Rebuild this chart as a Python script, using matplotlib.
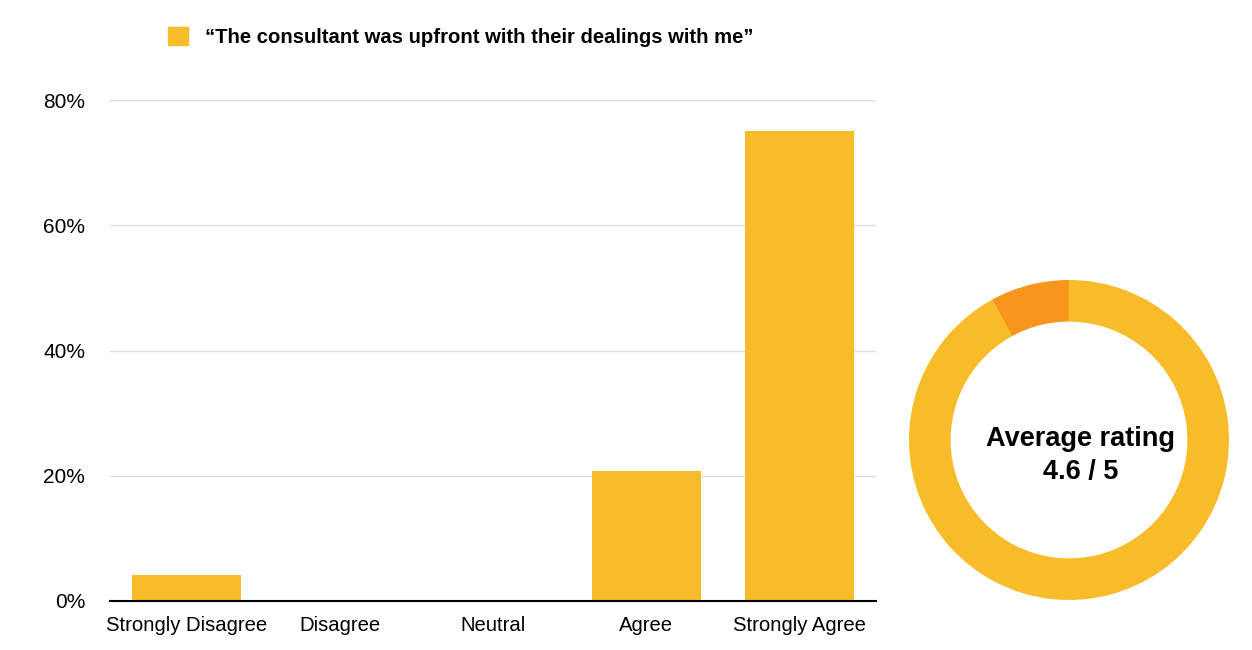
import numpy as np
import matplotlib.pyplot as plt
from matplotlib.patches import Patch

plt.rcParams['font.family'] = ['Liberation Sans', 'DejaVu Sans']

categories = ["Strongly Disagree", "Disagree", "Neutral", "Agree", "Strongly Agree"]
shares = [0.042, 0.0, 0.0, 0.208, 0.75]
yticks = [0, 0.2, 0.4, 0.6, 0.8]
legend_label = "\u201cThe consultant was upfront with their dealings with me\u201d"
avg_rating = 4.6
max_rating = 5

yellow = "#F8BC2B"
orange = "#F8951D"

fig = plt.figure(figsize=(12.52, 6.5), dpi=100)

ax = fig.add_axes([110 / 1252, 1 - 601 / 650, 766 / 1252, 501 / 650])
x = np.arange(len(categories))
ax.bar(x, shares, width=0.71, color=yellow, zorder=2)
ax.set_xlim(-0.5, len(categories) - 0.5)
ax.set_ylim(0, 0.8)
ax.set_yticks(yticks)
ax.set_yticklabels(["{:.0f}%".format(v * 100) for v in yticks])
ax.set_xticks(x)
ax.set_xticklabels(categories)
ax.tick_params(axis="y", length=0, pad=18, labelsize=15)
ax.tick_params(axis="x", length=0, pad=10.5, labelsize=14.6)
ax.grid(axis="y", color="#dcdcdc", linewidth=1, zorder=0)
for s in ["top", "right", "left"]:
    ax.spines[s].set_visible(False)
ax.spines["bottom"].set_color("black")
ax.spines["bottom"].set_linewidth(1.5)
ax.spines["bottom"].set_zorder(3)

fig.legend(handles=[Patch(color=yellow)], labels=[legend_label],
           loc="center left", bbox_to_anchor=(150 / 1252, 1 - 37 / 650),
           frameon=False, handlelength=0.95, handleheight=0.95, handletextpad=0.85,
           prop={"weight": "bold", "size": 14.6})

dax = fig.add_axes([909 / 1252, 1 - 600 / 650, 320 / 1252, 320 / 650])
dax.pie([max_rating - avg_rating, avg_rating], colors=[orange, yellow],
        startangle=90, radius=1, wedgeprops={"width": 0.26, "linewidth": 0})
dax.set_xlim(-1, 1)
dax.set_ylim(-1, 1)
dax.set_aspect("equal")
dax.axis("off")
dax.text(0.07, -0.1, "Average rating\n{} / {}".format(avg_rating, max_rating),
         ha="center", va="center", fontsize=19.5, fontweight="bold",
         linespacing=1.35)

fig.savefig("out.png", dpi=100)
